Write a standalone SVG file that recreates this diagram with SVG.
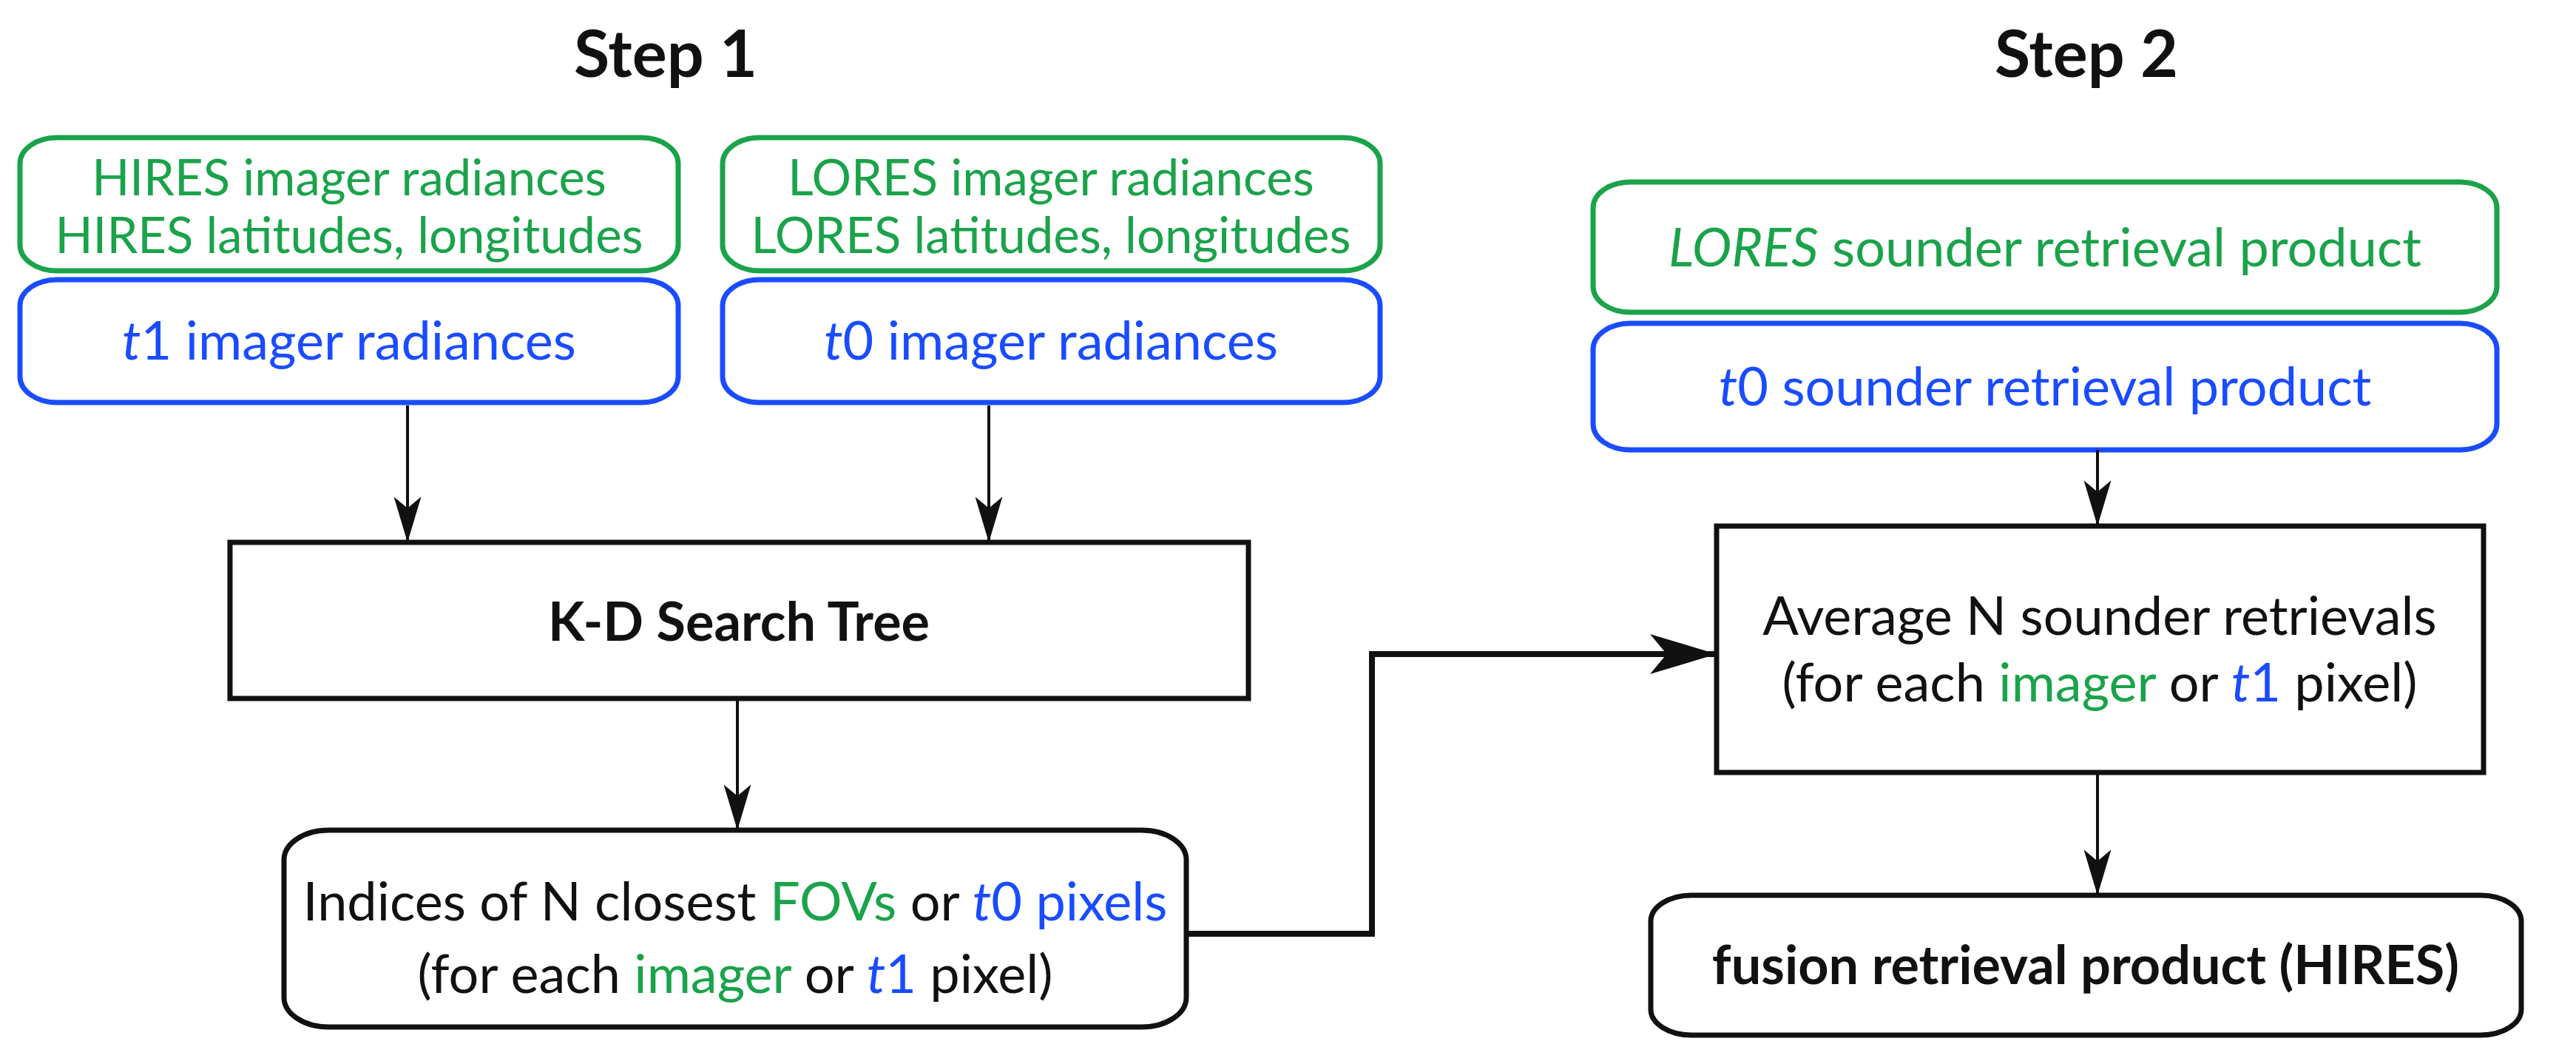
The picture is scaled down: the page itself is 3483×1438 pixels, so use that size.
<svg xmlns="http://www.w3.org/2000/svg" width="3483" height="1438" viewBox="0 0 3483 1438">
<style>
text{font-family:Lato,"Open Sans",sans-serif;font-size:72px;text-anchor:middle;fill:#111}
.g{fill:#1aa34a}.b{fill:#1a4cff}
.s{font-size:67px}
.bx{fill:#fff;stroke-width:7}
.gs{stroke:#1aa34a}.bs{stroke:#1a4cff}.ks{stroke:#111}
.h{font-weight:bold}
.c{fill:none;stroke:#111;stroke-width:4}
</style>
<defs><marker id="a" viewBox="0 0 20 12" refX="20" refY="6" markerWidth="62" markerHeight="37" markerUnits="userSpaceOnUse" orient="auto"><path d="M0,0L20,6L0,12L5,6z" fill="#111"/></marker>
<marker id="a2" viewBox="0 0 20 12" refX="20" refY="6" markerWidth="90" markerHeight="54" orient="auto" markerUnits="userSpaceOnUse"><path d="M0,0L20,6L0,12L5,6z" fill="#111"/></marker></defs>
<text x="900" y="104" class="h" style="font-size:88px">Step 1</text>
<text x="2821" y="104" class="h" style="font-size:88px">Step 2</text>
<g id="hires"><rect class="bx gs" x="27" y="186" width="890" height="180" rx="50" ry="35"/>
<text x="472" y="264" class="g s">HIRES imager radiances</text><text x="472" y="342" class="g s">HIRES latitudes, longitudes</text></g>
<g id="t1"><rect class="bx bs" x="27" y="378" width="890" height="166" rx="50" ry="35"/>
<text x="472" y="486" class="b"><tspan font-style="italic">t</tspan>1 imager radiances</text></g>
<g id="lores"><rect class="bx gs" x="977" y="186" width="889" height="180" rx="50" ry="35"/>
<text x="1421" y="264" class="g s">LORES imager radiances</text><text x="1421" y="342" class="g s">LORES latitudes, longitudes</text></g>
<g id="t0"><rect class="bx bs" x="977" y="378" width="889" height="166" rx="50" ry="35"/>
<text x="1421" y="486" class="b"><tspan font-style="italic">t</tspan>0 imager radiances</text></g>
<g id="kd"><rect class="bx ks" x="311" y="733" width="1377" height="211"/>
<text x="999" y="866" class="h">K-D Search Tree</text></g>
<g id="idx"><rect class="bx ks" x="384" y="1122" width="1220" height="266" rx="60" ry="40"/>
<text x="994" y="1244">Indices of N closest <tspan class="g">FOVs</tspan> or <tspan class="b"><tspan font-style="italic">t</tspan>0 pixels</tspan></text>
<text x="994" y="1342">(for each <tspan class="g">imager</tspan> or <tspan class="b" font-style="italic">t</tspan><tspan class="b">1</tspan> pixel)</text></g>
<g id="lsound"><rect class="bx gs" x="2154" y="246" width="1222" height="176" rx="50" ry="35"/>
<text x="2765" y="360" class="g"><tspan font-style="italic">LORES</tspan> sounder retrieval product</text></g>
<g id="t0s"><rect class="bx bs" x="2154" y="437" width="1222" height="171" rx="50" ry="35"/>
<text x="2765" y="548" class="b"><tspan font-style="italic">t</tspan>0 sounder retrieval product</text></g>
<g id="avg"><rect class="bx ks" x="2321" y="711" width="1037" height="333"/>
<text x="2839" y="858">Average N sounder retrievals</text>
<text x="2839" y="948">(for each <tspan class="g">imager</tspan> or <tspan class="b" font-style="italic">t</tspan><tspan class="b">1</tspan> pixel)</text></g>
<g id="fusion"><rect class="bx ks" x="2232" y="1210" width="1177" height="189" rx="55" ry="35"/>
<text x="2820" y="1330" class="h">fusion retrieval product (HIRES)</text></g>
<g id="connectors">
<path class="c" d="M551,548V733" marker-end="url(#a)"/>
<path class="c" d="M1337,548V733" marker-end="url(#a)"/>
<path class="c" d="M997,944V1122" marker-end="url(#a)"/>
<path class="c" d="M2836,608V711" marker-end="url(#a)"/>
<path class="c" d="M2836,1044V1210" marker-end="url(#a)"/>
<path class="c" style="stroke-width:8" d="M1604,1262H1855V884H2321" marker-end="url(#a2)"/>
</g>
</svg>
